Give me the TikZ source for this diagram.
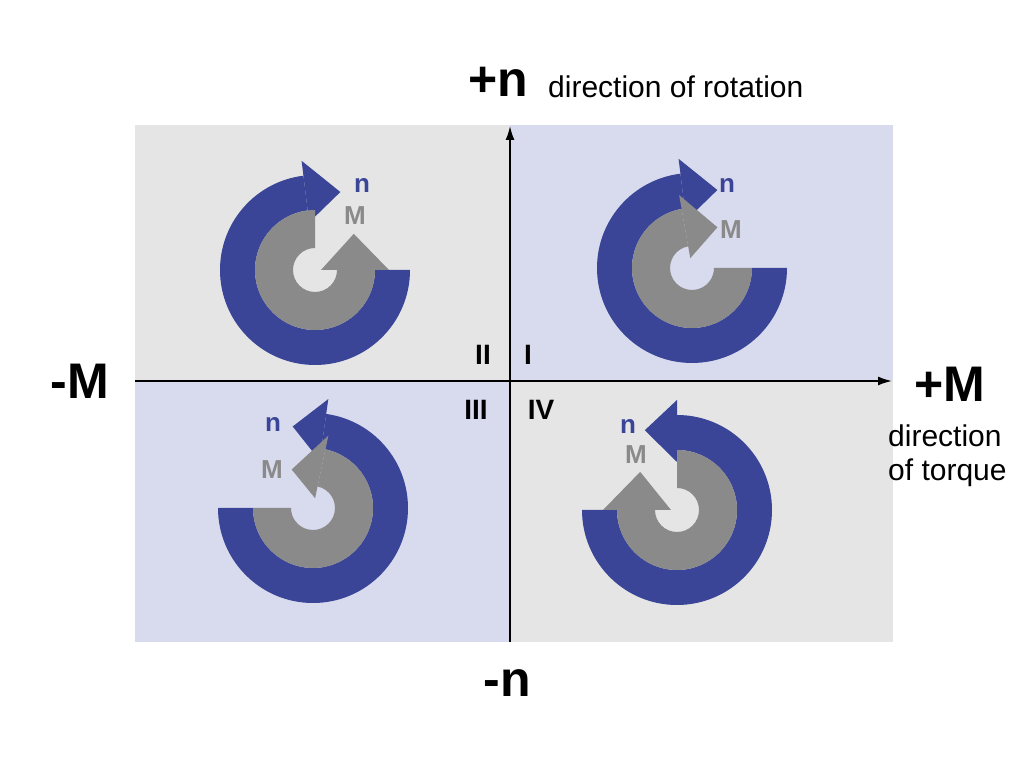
\documentclass[tikz,border=0pt]{standalone}
\usepackage{fontspec}
\setmainfont{Liberation Sans}
\begin{document}
\begin{tikzpicture}[x=1pt,y=1pt,
  big/.style={font=\fontsize{50}{50}\selectfont\bfseries, inner sep=0},
  small/.style={font=\fontsize{30}{34}\selectfont, inner sep=0},
  roman/.style={font=\fontsize{28}{28}\selectfont\bfseries, inner sep=0},
  lbln/.style={font=\fontsize{26}{26}\selectfont\bfseries, text=ringblue, inner sep=0},
  lblm/.style={font=\fontsize{26}{26}\selectfont\bfseries, text=ringgray, inner sep=0},
  axis/.style={line width=1.6pt, -{Latex[length=14pt,width=9pt]}}]
\usetikzlibrary{arrows.meta}
\definecolor{ringblue}{HTML}{3A4597}
\definecolor{ringgray}{HTML}{8A8A8A}
\definecolor{bggray}{HTML}{E5E5E5}
\definecolor{bgblue}{HTML}{D8DBED}
\newcommand{\ringarrow}[9]{% cx cy rin rout a1 a2 hin hout tipangle ; color via #9
  \begin{scope}[shift={(#1,#2)}]
  \fill[#9] (#5:#4) arc[start angle=#5,end angle=#6,radius=#4] -- (#6:#3) arc[start angle=#6,end angle=#5,radius=#3] -- cycle;
  \pgfmathsetmacro{\tipr}{(#7+#8)/2}
  \fill[#9] (#6:#7) -- (#6:#8) -- (#8:0) ++(0,0) -- cycle;
  \end{scope}}
\newcommand{\arrowhead}[7]{% cx cy angle hin hout tipangle tipr
  \fill[#7] ([shift={(#3:#4)}]#1,#2) -- ([shift={(#3:#5)}]#1,#2) -- cycle;}
\useasboundingbox (0,0) rectangle (1028,771);
\fill[bggray] (135,391) rectangle (510,646);
\fill[bgblue] (510,391) rectangle (893,646);
\fill[bgblue] (135,129) rectangle (510,391);
\fill[bggray] (510,129) rectangle (893,391);
% ring helper
\def\ring#1#2#3#4#5#6#7#8#9{%
  \begin{scope}[shift={(#1,#2)}]
  \fill[#9] (#5:#4) arc[start angle=#5,end angle=#6,radius=#4] -- (#6:#3) arc[start angle=#6,end angle=#5,radius=#3] -- cycle;
  \end{scope}}
\def\head#1#2#3#4#5#6#7#8{%
  \begin{scope}[shift={(#1,#2)}]
  \fill[#8] (#3:#4) -- (#3:#5) -- (#6:#7) -- cycle;
  \end{scope}}
% Quadrant I
\ring{692}{503}{60}{95}{0}{-263}{}{}{ringblue}
\head{692}{503}{-263}{48}{110}{-288}{82}{ringblue}
\ring{692}{503}{22}{60}{0}{-260}{}{}{ringgray}
\head{692}{503}{-260}{10}{74}{-302}{48}{ringgray}
% Quadrant II
\ring{315}{501}{60}{95}{0}{-263}{}{}{ringblue}
\head{315}{501}{-263}{48}{110}{-288}{82}{ringblue}
\ring{315}{501}{22}{60}{90}{360}{}{}{ringgray}
\head{315}{501}{360}{6}{74}{403}{53}{ringgray}
% Quadrant III
\ring{313}{263}{60}{95}{180}{442}{}{}{ringblue}
\head{313}{263}{442}{48}{110}{464}{84}{ringblue}
\ring{313}{263}{22}{60}{180}{438}{}{}{ringgray}
\head{313}{263}{438}{10}{74}{479}{44}{ringgray}
% Quadrant IV
\ring{677}{261}{60}{95}{180}{450}{}{}{ringblue}
\head{677}{261}{450}{48}{110}{472}{86}{ringblue}
\ring{677}{261}{22}{60}{90}{-180}{}{}{ringgray}
\head{677}{261}{-180}{6}{74}{-226}{53}{ringgray}
% labels in quadrants
\node[lbln] (nI) at (727,585) {n};
\node[lblm] (mI) at (731,541) {M};
\node[lbln] (nII) at (362,585) {n};
\node[lblm] (mII) at (355,555) {M};
\node[lbln] (nIII) at (273,346) {n};
\node[lblm] (mIII) at (272,301) {M};
\node[lbln] (nIV) at (628,344) {n};
\node[lblm] (mIV) at (636,316) {M};
% axes
\coordinate (xs) at (135,390);
\coordinate (xe) at (892,390);
\coordinate (ys) at (510,129);
\coordinate (ye) at (510,645);
\draw[axis] (xs) -- (xe);
\draw[axis] (ys) -- (ye);
% axis labels
\node[big] (pn) at (498,689) {+n};
\node[small, anchor=west] (dr) at (548,684) {direction of rotation};
\node[big] (mm) at (80,390) {-M};
\node[big] (pm) at (950,387) {+M};
\node[small, anchor=west, align=left] (dt) at (888,315) {direction\\of torque};
\node[big] (mn) at (507,88) {-n};
\node[roman] (rII) at (483,416) {II};
\node[roman] (rI) at (528,416) {I};
\node[roman] (rIII) at (476,361) {III};
\node[roman] (rIV) at (541,361) {IV};
\end{tikzpicture}
\end{document}
